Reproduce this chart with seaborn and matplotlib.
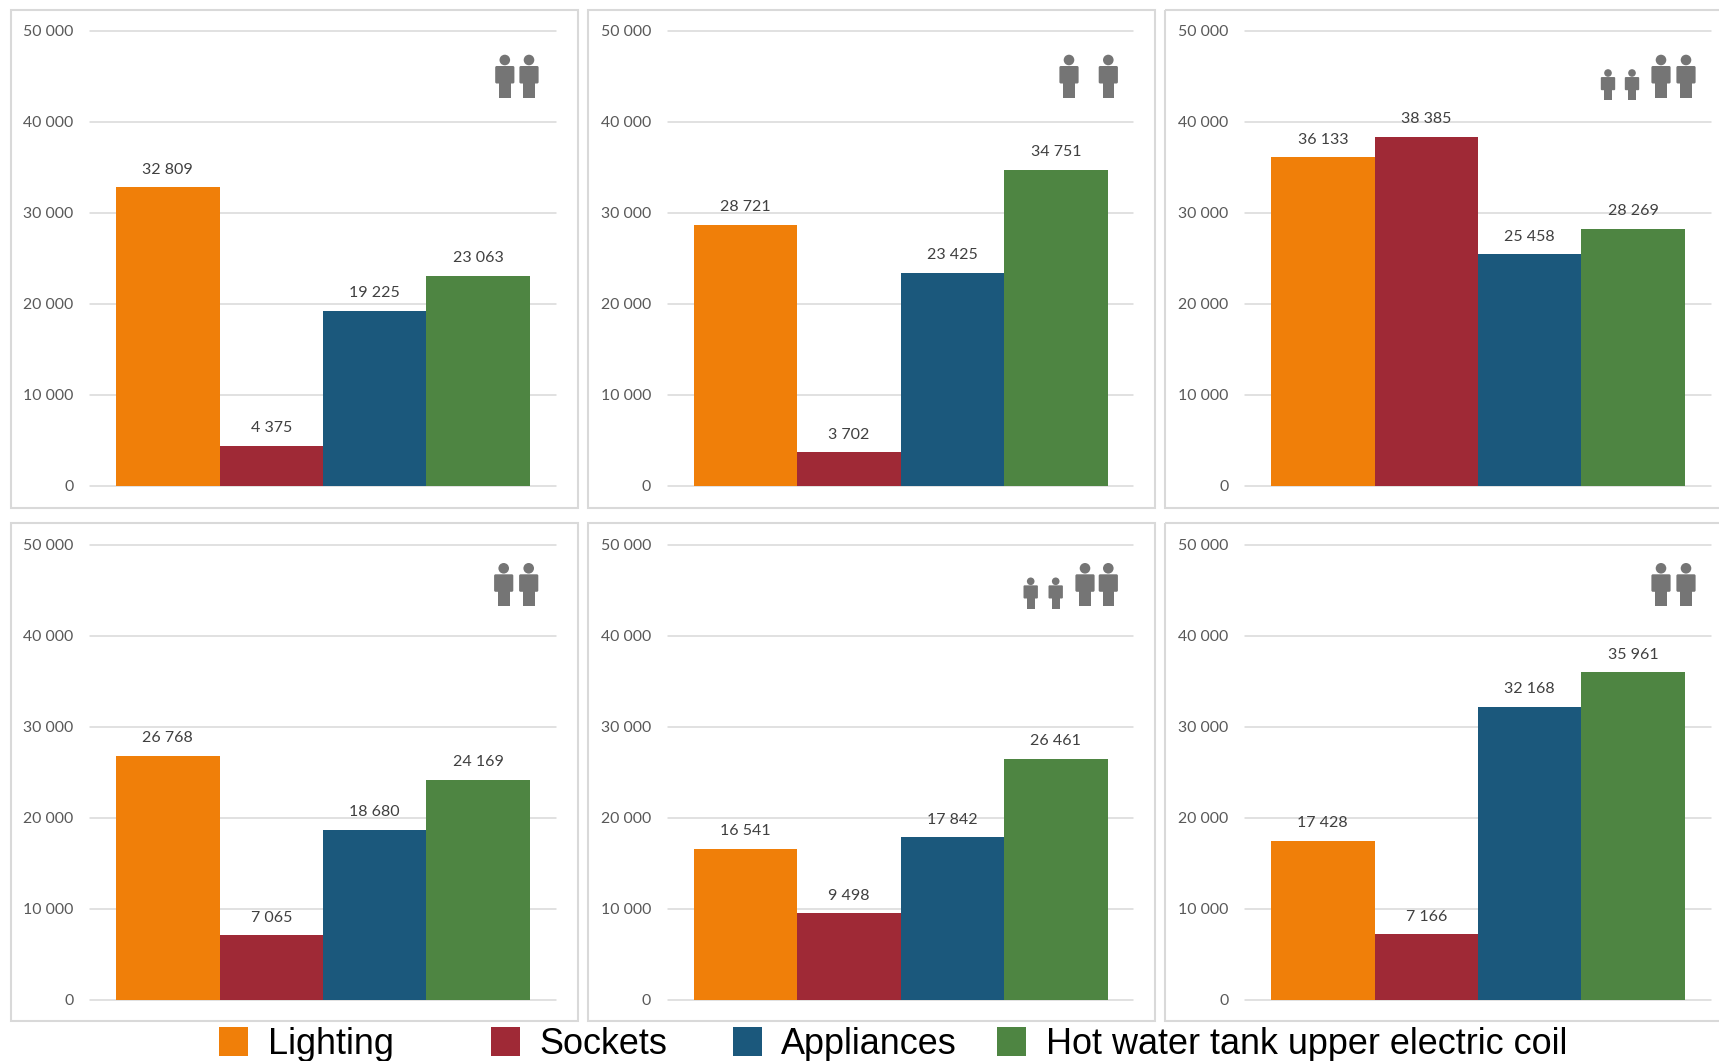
import matplotlib
matplotlib.use("Agg")
import matplotlib.pyplot as plt
import pandas as pd
import seaborn as sns
from matplotlib.patches import Circle, FancyBboxPatch, Rectangle
from matplotlib.ticker import FuncFormatter
from matplotlib.transforms import Affine2D

WIDTH, HEIGHT = 1719, 1061

loads = ["Lighting", "Sockets", "Appliances", "Hot water tank upper electric coil"]
colors = ["#F07F09", "#9F2936", "#1B587C", "#4E8542"]

household_1 = [32809, 4375, 19225, 23063]
household_2 = [28721, 3702, 23425, 34751]
household_3 = [36133, 38385, 25458, 28269]
household_4 = [26768, 7065, 18680, 24169]
household_5 = [16541, 9498, 17842, 26461]
household_6 = [17428, 7166, 32168, 35961]
households = [household_1, household_2, household_3,
              household_4, household_5, household_6]

y_ticks = [0, 10000, 20000, 30000, 40000, 50000]

# Layout in pixels, measured from the top-left corner of the canvas
col_left = [90, 667.6, 1245]
row_top = [31, 544.7]
axes_w, axes_h = 465.7, 454.8
box_left = [10.8, 587.9, 1165.4]
box_top = [9.8, 522.7]
box_w, box_h = 566.7, 498

# Occupant icons: (head x, head y, scale) per panel
ADULT, CHILD = 1.0, 0.72
occupants = [
    [(504.8, 60, ADULT), (529, 60, ADULT)],
    [(1069, 60, ADULT), (1108.3, 60, ADULT)],
    [(1608, 73, CHILD), (1632, 73, CHILD), (1661, 60, ADULT), (1686, 60, ADULT)],
    [(503.7, 568.3, ADULT), (528.7, 568.3, ADULT)],
    [(1030.7, 581.3, CHILD), (1055.7, 581.3, CHILD), (1085, 568.3, ADULT), (1108.3, 568.3, ADULT)],
    [(1661, 568.3, ADULT), (1686, 568.3, ADULT)],
]

legend_swatch_x = [219, 491, 733, 997]
legend_text_x = [268, 539.5, 781, 1045.5]

TICK_FONT = "Lato"
GRID = "#D9D9D9"
ICON = "#757575"


def thousands(value, _pos=None):
    return f"{value:,.0f}".replace(",", " ")


def draw_person(fig, pixels, x, y, s):
    """Head, shoulders and legs of one occupant, scaled from the adult size."""
    head = Circle((x, y), 5.3 * s, color=ICON, lw=0, transform=pixels, zorder=5)
    torso = FancyBboxPatch((x - 8.6 * s, y + 7 * s), 17.2 * s, 15.5 * s,
                           boxstyle=f"round,pad=1,rounding_size={1.5 * s}",
                           fc=ICON, ec="none", transform=pixels, zorder=5)
    legs = Rectangle((x - 5.8 * s, y + 15 * s), 11.6 * s, 23 * s,
                     color=ICON, lw=0, transform=pixels, zorder=5)
    fig.add_artist(head)
    fig.add_artist(torso)
    fig.add_artist(legs)


sns.set_theme(style="white")
fig = plt.figure(figsize=(WIDTH / 100, HEIGHT / 100), dpi=100, facecolor="white")
pixels = Affine2D().scale(1, -1).translate(0, HEIGHT)

# Panel frames sit behind the axes
for top in box_top:
    for left in box_left:
        fig.add_artist(Rectangle((left, top), box_w, box_h, fc="none", ec=GRID,
                                 lw=1.5, transform=pixels, zorder=-1))

for i, values in enumerate(households):
    row, col = divmod(i, 3)
    left = col_left[col] / WIDTH
    bottom = 1 - (row_top[row] + axes_h) / HEIGHT
    ax = fig.add_axes([left, bottom, axes_w / WIDTH, axes_h / HEIGHT])
    ax.patch.set_alpha(0)

    frame = pd.DataFrame({"load": loads, "kwh": values})
    sns.barplot(data=frame, x="load", y="kwh", hue="load", hue_order=loads,
                order=loads, palette=colors, width=1, saturation=1, dodge=False,
                legend=False, ax=ax, zorder=3, linewidth=0, edgecolor="none")

    for container in ax.containers:
        ax.bar_label(container, fmt=thousands, padding=7.6, fontsize=11.5,
                     family=TICK_FONT, color="#404040")

    ax.set_xlim(-0.752, 3.749)
    ax.set_ylim(0, 50000)
    ax.set_yticks(y_ticks)
    ax.yaxis.set_major_formatter(FuncFormatter(thousands))
    ax.set_xticks([])
    ax.set_xlabel("")
    ax.set_ylabel("")
    ax.tick_params(axis="y", length=0, pad=12, labelsize=11.4, labelcolor="#595959")
    for label in ax.get_yticklabels():
        label.set_family(TICK_FONT)
    ax.grid(axis="y", color=GRID, lw=1.1, clip_on=False)
    ax.set_axisbelow(True)
    sns.despine(ax=ax, left=True, bottom=True)
    for line in ax.get_ygridlines():
        line.set_clip_on(False)

    for x, y, s in occupants[i]:
        draw_person(fig, pixels, x, y, s)

# Legend row, spaced by hand because the gaps between entries are uneven
for name, color, sx, tx in zip(loads, colors, legend_swatch_x, legend_text_x):
    fig.add_artist(Rectangle((sx, 1027), 29, 29, color=color, lw=0, transform=pixels))
    fig.text(tx / WIDTH, 1 - 1054 / HEIGHT, name, fontsize=25.9,
             family="Liberation Sans", color="black", va="baseline", ha="left")

fig.savefig("out.png", dpi=100)
